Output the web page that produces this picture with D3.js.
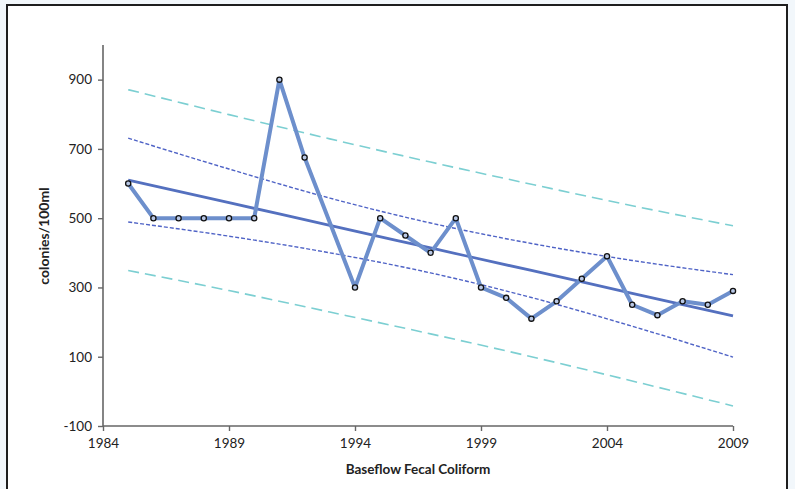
<!DOCTYPE html>
<html>
<head>
<meta charset="utf-8">
<script src="https://cdn.jsdelivr.net/npm/d3@7"></script>
<style>
  html, body { margin: 0; padding: 0; background: #f2f7fb; }
  svg { display: block; }
  text { font-family: Lato, "Open Sans", sans-serif; fill: #222; }
</style>
</head>
<body>
<svg id="chart" width="795" height="489"></svg>
<script>
// Observed baseflow fecal coliform (colonies/100ml); no sample in 1993
const years  = [1985, 1986, 1987, 1988, 1989, 1990, 1991, 1992, 1994, 1995, 1996, 1997,
                1998, 1999, 2000, 2001, 2002, 2003, 2004, 2005, 2006, 2007, 2008, 2009];
const values = [600, 500, 500, 500, 500, 500, 900, 675, 300, 500, 450, 400,
                500, 300, 270, 210, 260, 325, 390, 250, 220, 260, 250, 290];

// Fitted trend and its bands, sampled along the record
const bandYears = [1985, 1989, 1993, 1997, 2001, 2005, 2009];
const trend     = [610, 545, 479, 414, 349, 283, 218];
const confUpper = [731, 642, 558, 486, 427, 378, 337];
const confLower = [489, 448, 400, 342, 271, 188, 99];
const predUpper = [871, 799, 729, 662, 598, 536, 478];
const predLower = [349, 291, 229, 166, 100, 30, -42];

const xTicks = [1984, 1989, 1994, 1999, 2004, 2009];
const yTicks = [-100, 100, 300, 500, 700, 900];

const svg = d3.select("#chart");

// page frame
svg.append("rect")
  .attr("x", 7).attr("y", 5).attr("width", 780).attr("height", 500)
  .attr("fill", "#ffffff").attr("stroke", "#1e1e1e").attr("stroke-width", 2);

const x = d3.scaleLinear().domain([1984, 2009]).range([103, 733]);
const y = d3.scaleLinear().domain([-100, 1000]).range([426, 45]);

// axes (plain hyphen for negatives)
const xAxis = svg.append("g").attr("transform", "translate(0,426)")
  .call(d3.axisBottom(x).tickValues(xTicks).tickFormat(d => String(d)).tickSize(5).tickPadding(7));
const yAxis = svg.append("g").attr("transform", "translate(103,0)")
  .call(d3.axisLeft(y).tickValues(yTicks).tickFormat(d => String(d)).tickSize(5).tickPadding(6));
[xAxis, yAxis].forEach(g => {
  g.select(".domain").attr("stroke", "#666").attr("stroke-width", 1.6);
  g.selectAll(".tick line").attr("stroke", "#666").attr("stroke-width", 1.4);
  g.selectAll(".tick text").attr("font-size", 13.5).attr("fill", "#333")
    .style("font-family", "Lato, 'Open Sans', sans-serif");
});
yAxis.select(".domain").attr("d", `M0,${y(-100)}V${y(1000)}`);
xAxis.select(".domain").attr("d", `M${x(1984)},0H${x(2009)}`);

const band = d3.line().x((d, i) => x(bandYears[i])).y(d => y(d)).curve(d3.curveMonotoneX);

// prediction interval
[predUpper, predLower].forEach(s => {
  svg.append("path").attr("d", band(s)).attr("fill", "none")
    .attr("stroke", "#7ccfd2").attr("stroke-width", 1.6).attr("stroke-dasharray", "11,6");
});
// confidence interval
[confUpper, confLower].forEach(s => {
  svg.append("path").attr("d", band(s)).attr("fill", "none")
    .attr("stroke", "#4f63c6").attr("stroke-width", 1.4).attr("stroke-dasharray", "4,2");
});
// trend line
svg.append("path").attr("d", band(trend)).attr("fill", "none")
  .attr("stroke", "#5470bf").attr("stroke-width", 2.8);

// observations
const obs = d3.line().x((d, i) => x(years[i])).y(d => y(d));
svg.append("path").attr("d", obs(values)).attr("fill", "none")
  .attr("stroke", "#6d8fcc").attr("stroke-width", 4).attr("stroke-linejoin", "round");
svg.selectAll("circle.pt").data(values).join("circle")
  .attr("class", "pt")
  .attr("cx", (d, i) => x(years[i])).attr("cy", d => y(d)).attr("r", 2.6)
  .attr("fill", "#b9c8e6").attr("stroke", "#111").attr("stroke-width", 1.3);

// axis titles
svg.append("text").attr("x", 418).attr("y", 474).attr("text-anchor", "middle")
  .attr("font-size", 13.5).attr("font-weight", "bold").text("Baseflow Fecal Coliform");
svg.append("text").attr("transform", "translate(49,236) rotate(-90)").attr("text-anchor", "middle")
  .attr("font-size", 14).attr("font-weight", "bold").text("colonies/100ml");
</script>
</body>
</html>
